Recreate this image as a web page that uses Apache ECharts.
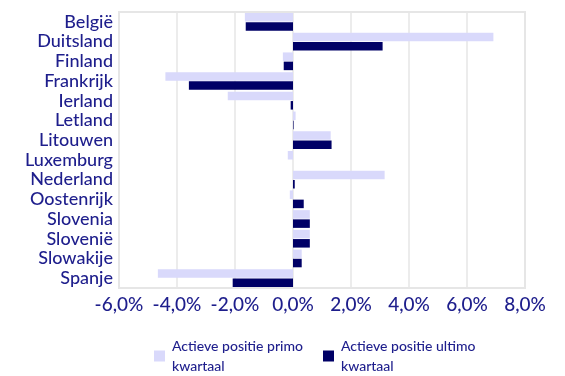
<!DOCTYPE html>
<html>
<head>
<meta charset="utf-8">
<script src="https://cdn.jsdelivr.net/npm/echarts@6/dist/echarts.min.js"></script>
<style>
  html, body { margin: 0; padding: 0; background: #ffffff; }
  #chart { width: 565px; height: 376px; }
</style>
</head>
<body>
<div id="chart"></div>
<script>
// Countries, listed top to bottom
const countries = ['België', 'Duitsland', 'Finland', 'Frankrijk', 'Ierland', 'Letland', 'Litouwen',
  'Luxemburg', 'Nederland', 'Oostenrijk', 'Slovenia', 'Slovenië', 'Slowakije', 'Spanje'];

// Active position at the start of the quarter (%)
const primoValues = [-1.66, 6.91, -0.35, -4.40, -2.25, 0.09, 1.30, -0.18, 3.16, -0.11, 0.58, 0.58, 0.30, -4.66];
// Active position at the end of the quarter (%)
const ultimoValues = [-1.63, 3.09, -0.32, -3.59, -0.08, 0.02, 1.33, 0.00, 0.06, 0.37, 0.58, 0.58, 0.30, -2.08];

const seriesNames = ['Actieve positie primo\nkwartaal', 'Actieve positie ultimo\nkwartaal'];

const textColor = '#1e1e8c';
const fontFamily = 'Lato, "Open Sans", sans-serif';

const chart = echarts.init(document.getElementById('chart'), null, { renderer: 'canvas' });

chart.setOption({
  animation: false,
  backgroundColor: '#ffffff',
  grid: {
    left: 119, right: 40, top: 12, bottom: 88,
    show: true, borderColor: '#e6e6e6', borderWidth: 2, containLabel: false
  },
  legend: {
    left: 154, top: 336, padding: 0,
    itemWidth: 11, itemHeight: 11, itemGap: 20,
    icon: 'rect',
    data: seriesNames,
    textStyle: { color: textColor, fontFamily, fontSize: 14, fontWeight: 500, lineHeight: 20, padding: [0, 0, 0, 2] }
  },
  xAxis: {
    type: 'value', min: -6, max: 8, interval: 2,
    axisLine: { show: false }, axisTick: { show: false },
    splitLine: { show: true, lineStyle: { color: '#e6e6e6', width: 1.5 } },
    axisLabel: {
      color: textColor, fontFamily, fontSize: 19, fontWeight: 500, margin: 7,
      formatter: v => v.toFixed(1).replace('.', ',') + '%'
    }
  },
  yAxis: {
    type: 'category', data: countries, inverse: true,
    axisLine: { show: false, onZero: false }, axisTick: { show: false },
    axisLabel: { color: textColor, fontFamily, fontSize: 18, fontWeight: 500, margin: 6, interval: 0 }
  },
  series: [
    {
      name: seriesNames[0], type: 'bar', data: primoValues,
      itemStyle: { color: '#d9d9fb' },
      barGap: '8%', barCategoryGap: '10%'
    },
    {
      name: seriesNames[1], type: 'bar', data: ultimoValues,
      itemStyle: { color: '#000066' },
      barGap: '8%', barCategoryGap: '10%'
    }
  ]
});
</script>
</body>
</html>
